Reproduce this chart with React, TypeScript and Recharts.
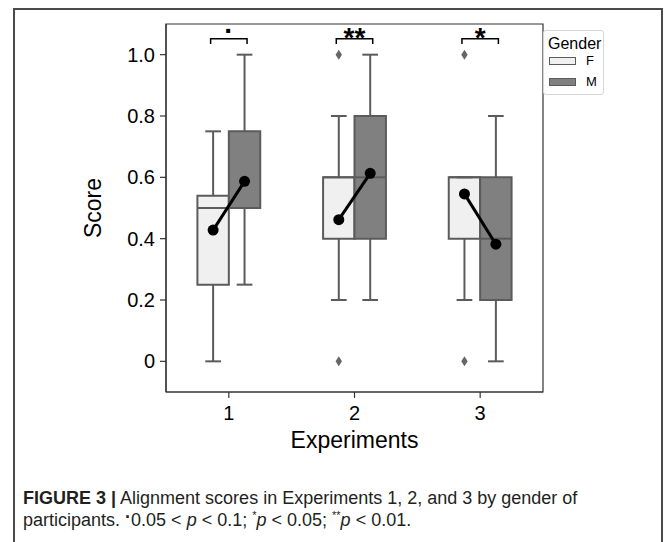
import React from 'react'
import {
  ComposedChart,
  XAxis,
  YAxis,
  Scatter,
  ReferenceArea,
  ReferenceLine,
  Legend,
} from 'recharts'

const experiments = [1, 2, 3]
const yTicks = [0, 0.2, 0.4, 0.6, 0.8, 1.0]
const yTickLabels = ['0', '0.2', '0.4', '0.6', '0.8', '1.0']
const genders = ['F', 'M']

// [lower whisker, Q1, median, Q3, upper whisker] per experiment
const femaleBoxes = [
  [0, 0.25, 0.5, 0.54, 0.75],
  [0.2, 0.4, 0.6, 0.6, 0.8],
  [0.2, 0.4, 0.6, 0.6, 0.6],
]
const maleBoxes = [
  [0.25, 0.5, 0.5, 0.75, 1.0],
  [0.2, 0.4, 0.6, 0.8, 1.0],
  [0, 0.2, 0.4, 0.6, 0.8],
]
const femaleMeans = [0.428, 0.462, 0.546]
const maleMeans = [0.587, 0.613, 0.382]
const femaleOutliers = [[], [0, 1.0], [0, 1.0]]
const maleOutliers = [[], [], []]
const sigMarks = ['·', '**', '*']

const W = 669
const H = 460
const FONT = '"Liberation Sans", Arial, Helvetica, sans-serif'
const EDGE = '#5b5b5b'
const FILLS = ['#f0f0f0', '#808080']
const BOX_W = 0.25
const CAP = 0.0625
const SHIFT = 0.125
const BRACKET_Y = 1.052
const BRACKET_TIP = 1.035
const BRACKET_HALF = 0.145
const SIG_Y = 1.076

const MeanDot = (p: any) => <circle cx={p.cx} cy={p.cy} r={5.5} fill="#000" />
const Diamond = (p: any) => (
  <polygon
    points={`${p.cx},${p.cy - 5} ${p.cx + 3.2},${p.cy} ${p.cx},${p.cy + 5} ${p.cx - 3.2},${p.cy}`}
    fill="#666"
  />
)
const NoDot = () => <g />
const SigText = (p: any) => {
  const mark = p.payload.mark
  return (
    <text
      x={p.cx}
      y={p.cy}
      dy={mark === '·' ? '0.3em' : '0.55em'}
      textAnchor="middle"
      fontSize={28}
      fontWeight="bold"
      fill="#000"
      fontFamily={FONT}
    >
      {mark}
    </text>
  )
}

function boxElements(boxes: number[][], dx: number, fill: string, tag: string) {
  return boxes.flatMap((b, i) => {
    const cx = experiments[i] + dx
    const [lo, q1, med, q3, hi] = b
    const line = { stroke: EDGE, strokeWidth: 2 }
    return [
      <ReferenceLine key={`${tag}wl${i}`} segment={[{ x: cx, y: lo }, { x: cx, y: q1 }]} {...line} />,
      <ReferenceLine key={`${tag}wh${i}`} segment={[{ x: cx, y: q3 }, { x: cx, y: hi }]} {...line} />,
      <ReferenceLine key={`${tag}cl${i}`} segment={[{ x: cx - CAP, y: lo }, { x: cx + CAP, y: lo }]} {...line} />,
      <ReferenceLine key={`${tag}ch${i}`} segment={[{ x: cx - CAP, y: hi }, { x: cx + CAP, y: hi }]} {...line} />,
      <ReferenceArea
        key={`${tag}box${i}`}
        x1={cx - BOX_W / 2}
        x2={cx + BOX_W / 2}
        y1={q1}
        y2={q3}
        fill={fill}
        fillOpacity={1}
        stroke={EDGE}
        strokeWidth={2}
      />,
      <ReferenceLine
        key={`${tag}med${i}`}
        segment={[{ x: cx - BOX_W / 2, y: med }, { x: cx + BOX_W / 2, y: med }]}
        {...line}
      />,
    ]
  })
}

const outlierPoints = [
  ...femaleOutliers.flatMap((vals, i) => vals.map((v) => ({ x: experiments[i] - SHIFT, y: v }))),
  ...maleOutliers.flatMap((vals, i) => vals.map((v) => ({ x: experiments[i] + SHIFT, y: v }))),
]

const GenderLegend = () => (
  <div
    style={{
      position: 'relative',
      width: 61,
      height: 65,
      boxSizing: 'border-box',
      border: '1px solid #d6d6d6',
      borderRadius: 3,
      background: '#fff',
      fontFamily: FONT,
      color: '#000',
    }}
  >
    <div style={{ position: 'absolute', left: 4, top: 4, fontSize: 16, lineHeight: '18px' }}>Gender</div>
    {genders.map((g, i) => (
      <React.Fragment key={g}>
        <div
          style={{
            position: 'absolute',
            left: 5,
            top: 26 + i * 21,
            width: 27,
            height: 8,
            boxSizing: 'border-box',
            border: `1px solid ${EDGE}`,
            background: FILLS[i],
          }}
        />
        <div style={{ position: 'absolute', left: 42, top: 22 + i * 21, fontSize: 13, lineHeight: '16px' }}>{g}</div>
      </React.Fragment>
    ))}
  </div>
)

export default function App() {
  return (
    <div
      style={{
        position: 'absolute',
        left: 0,
        top: 0,
        width: W,
        height: 542,
        overflow: 'hidden',
        background: '#fff',
        fontFamily: FONT,
      }}
    >
      <div
        style={{
          position: 'absolute',
          left: 13,
          top: 8,
          width: 650,
          height: 600,
          boxSizing: 'border-box',
          border: '2px solid #4a4a4a',
        }}
      />
      <div style={{ position: 'absolute', left: 0, top: 0 }}>
        <ComposedChart
          width={W}
          height={H}
          margin={{ top: 24, right: 126, bottom: 38, left: 106 }}
          style={{ fontFamily: FONT }}
        >
          <XAxis
            type="number"
            dataKey="x"
            domain={[0.5, 3.5]}
            ticks={experiments}
            allowDataOverflow
            height={30}
            tick={{ fill: '#000', fontSize: 20 }}
            tickSize={6}
            tickMargin={8}
            tickLine={{ stroke: '#333', strokeWidth: 1.2 }}
            axisLine={{ stroke: '#333', strokeWidth: 1.2 }}
            label={{ value: 'Experiments', position: 'insideBottom', offset: -26, fontSize: 23, fill: '#000' }}
          />
          <YAxis
            type="number"
            dataKey="y"
            domain={[-0.1, 1.1]}
            ticks={yTicks}
            allowDataOverflow
            width={60}
            tickFormatter={(v: number) => yTickLabels[yTicks.indexOf(v)] ?? String(v)}
            tick={{ fill: '#000', fontSize: 20 }}
            tickSize={6}
            tickMargin={5}
            tickLine={{ stroke: '#333', strokeWidth: 1.2 }}
            axisLine={{ stroke: '#333', strokeWidth: 1.2 }}
            label={{
              value: 'Score',
              angle: -90,
              position: 'insideLeft',
              offset: -13,
              fontSize: 23,
              fill: '#000',
              style: { textAnchor: 'middle' },
            }}
          />
          <ReferenceArea x1={0.5} x2={3.5} y1={-0.1} y2={1.1} fill="none" stroke="#333" strokeWidth={1.2} />
          {boxElements(femaleBoxes, -SHIFT, FILLS[0], 'f')}
          {boxElements(maleBoxes, SHIFT, FILLS[1], 'm')}
          <Scatter data={outlierPoints} shape={Diamond} isAnimationActive={false} />
          {experiments.map((e, i) => (
            <Scatter
              key={`mean${e}`}
              data={[
                { x: e - SHIFT, y: femaleMeans[i] },
                { x: e + SHIFT, y: maleMeans[i] },
              ]}
              line={{ stroke: '#000', strokeWidth: 3, fill: 'none' }}
              shape={MeanDot}
              isAnimationActive={false}
            />
          ))}
          {experiments.map((e) => (
            <Scatter
              key={`br${e}`}
              data={[
                { x: e - BRACKET_HALF, y: BRACKET_TIP },
                { x: e - BRACKET_HALF, y: BRACKET_Y },
                { x: e + BRACKET_HALF, y: BRACKET_Y },
                { x: e + BRACKET_HALF, y: BRACKET_TIP },
              ]}
              line={{ stroke: '#000', strokeWidth: 1.5, fill: 'none' }}
              shape={NoDot}
              isAnimationActive={false}
            />
          ))}
          <Scatter
            data={experiments.map((e, i) => ({ x: e, y: SIG_Y, mark: sigMarks[i] }))}
            shape={SigText}
            isAnimationActive={false}
          />
          <Legend
            layout="horizontal"
            align="center"
            verticalAlign="middle"
            wrapperStyle={{ left: 543, top: 30, width: 61, height: 65 }}
            content={() => <GenderLegend />}
          />
        </ComposedChart>
      </div>
      <div
        style={{
          position: 'absolute',
          left: 23,
          top: 487,
          fontSize: 18,
          lineHeight: '22px',
          color: '#231f20',
          whiteSpace: 'nowrap',
        }}
      >
        <div>
          <b>FIGURE 3 |</b> Alignment scores in Experiments 1, 2, and 3 by gender of
        </div>
        <div>
          participants. <span style={{ position: 'relative', top: -3, fontWeight: 'bold' }}>·</span>0.05 &lt;{' '}
          <i>p</i> &lt; 0.1; <sup style={{ fontSize: 11, lineHeight: 0 }}>*</sup>
          <i>p</i> &lt; 0.05; <sup style={{ fontSize: 11, lineHeight: 0 }}>**</sup>
          <i>p</i> &lt; 0.01.
        </div>
      </div>
    </div>
  )
}
